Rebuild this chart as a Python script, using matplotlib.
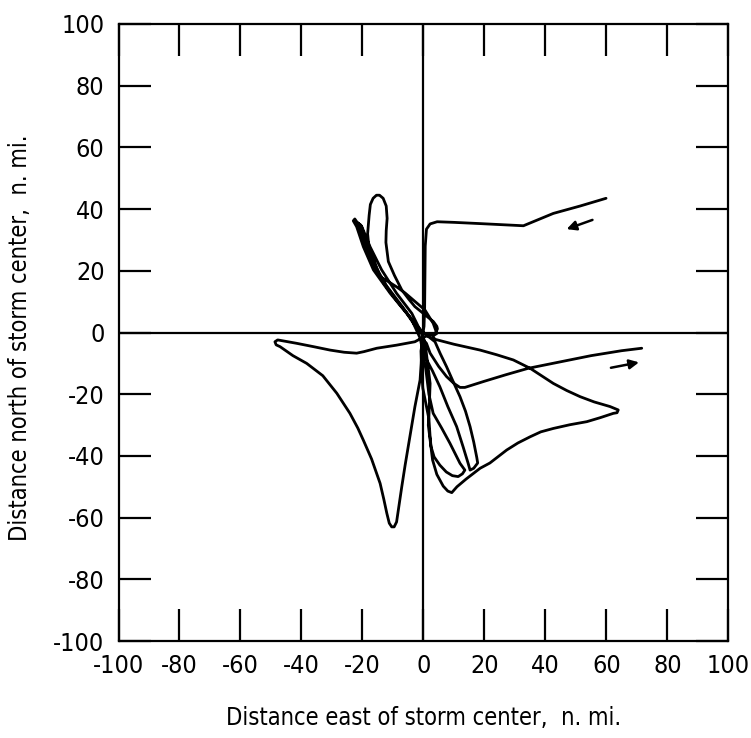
import matplotlib
matplotlib.use("Agg")
from matplotlib import pyplot as plt
from matplotlib import font_manager

# Storm-relative flight track (n. mi. east / north of storm center)
east_nmi = [
    # inbound leg
    59.9, 51.4, 42.6, 32.8, 25.0, 18.6, 10.0, 4.5, 2.2, 1.0, 0.6, 0.5, 0.4, 0.2, -0.2,
    # first pass up the NW bundle
    -1.7, -5.5, -10.9, -16.4, -19.7, -21.9, -23.0, -22.5, -21.8, -20.2, -17.5, -13.7, -8.8, -3.8, -1.1, 0.3,
    # narrow SE loop
    0.5, 3.0, 5.4, 8.0, 10.9, 13.0, 14.7, 15.3, 16.5, 17.8, 17.5, 16.5, 15.3, 13.8, 12.0, 9.8, 7.6, 5.5, 3.8, 1.5, -0.5,
    # tall NW loop
    -3.0, -7.0, -12.0, -15.5, -17.8, -18.3, -17.8, -17.4, -16.5, -15.4, -14.4, -13.2, -12.2, -11.9, -12.2, -12.3,
    -11.5, -9.5, -7.1, -4.8, -2.8, 0.8, 3.3, 4.4, 4.6, 4.0, 2.3, 0.0,
    # west / south-west petal
    -2.8, -8.8, -15.3, -19.5, -21.9, -26.0, -30.6, -36.0, -41.6, -46.0, -47.8, -48.7, -48.3, -47.0, -42.8, -38.3,
    -33.0, -28.4, -24.1, -21.5, -19.7, -17.0, -14.2, -13.0, -12.0, -11.2, -10.4, -9.6, -8.8, -8.0, -7.1, -6.0,
    -5.0, -3.8, -2.8, -1.8, -1.1, -0.6, -0.5,
    # south loop
    -0.8, -0.6, -0.2, 0.8, 1.8, 2.2, 2.5, 3.5, 5.4, 7.5, 9.5, 11.4, 12.8, 13.6, 12.0, 8.7, 6.0, 3.2, 1.8, 0.8, -1.0,
    # another NW pass
    -4.0, -8.5, -13.0, -16.5, -19.0, -20.8, -21.5, -20.5, -18.8, -16.5, -14.2, -11.5, -8.8, -6.0, -3.3, 0.5, 3.2, 4.4, 3.0,
    # east petal
    3.8, 10.0, 18.6, 24.0, 29.5, 35.0, 39.0, 42.6, 47.0, 51.4, 56.0, 61.2, 63.9, 63.5, 62.3, 58.0, 53.6, 48.0, 42.6,
    38.5, 35.0, 31.0, 27.3, 21.8, 18.6, 14.0, 11.0, 9.3, 8.0, 6.5, 4.4, 3.0, 2.2, 1.6, 1.8, 2.2, 1.1, 0.5,
    # outbound leg
    1.0, 2.2, 5.0, 7.6, 10.0, 12.0, 13.6, 20.0, 27.0, 34.4, 45.0, 55.0, 65.0, 71.6,
]
north_nmi = [
    43.5, 41.0, 38.6, 34.6, 35.0, 35.3, 35.7, 35.9, 35.2, 33.5, 28.0, 18.0, 8.0, 2.0, -0.5,
    0.8, 6.2, 12.7, 20.3, 27.8, 34.3, 36.2, 36.8, 35.8, 34.3, 27.8, 20.3, 12.7, 6.2, 0.8, -2.5,
    -7.8, -12.5, -17.6, -24.0, -30.5, -37.0, -42.5, -44.6, -44.0, -42.3, -40.5, -35.5, -30.5, -25.5, -20.8, -16.0,
    -11.1, -6.8, -3.0, -1.2, 0.5,
    3.0, 8.5, 15.0, 21.0, 27.0, 32.0, 38.0, 41.5, 43.5, 44.5, 44.5, 43.5, 41.0, 37.0, 33.0, 29.2,
    23.0, 18.5, 13.8, 10.8, 8.4, 5.5, 3.5, 2.0, 1.2, -0.2, -0.8, -1.5,
    -3.0, -4.1, -5.1, -6.2, -6.7, -6.4, -5.7, -4.6, -3.5, -2.7, -2.4, -3.0, -4.0, -4.6, -7.5, -10.0,
    -14.0, -19.7, -26.2, -31.0, -34.9, -41.0, -48.9, -54.0, -58.6, -61.8, -63.0, -63.0, -61.4, -56.0, -50.0, -43.0,
    -37.0, -30.0, -24.1, -19.0, -15.4, -8.0, -4.0,
    -6.0, -12.0, -18.0, -23.0, -28.0, -33.8, -37.0, -40.3, -43.0, -45.2, -46.4, -46.7, -45.8, -44.6, -42.4, -35.9,
    -31.0, -26.2, -20.0, -12.0, -2.0,
    4.5, 10.0, 16.0, 22.0, 28.5, 33.5, 35.5, 34.8, 30.0, 24.0, 18.1, 16.5, 14.8, 12.8, 10.5, 7.3, 3.0, -0.3, -1.2,
    -2.2, -3.8, -5.7, -7.2, -8.9, -11.6, -14.2, -16.5, -18.8, -20.8, -22.5, -24.0, -25.1, -26.0, -26.2, -27.6,
    -28.9, -29.9, -31.1, -32.2, -33.8, -35.8, -38.1, -42.3, -44.0, -47.5, -50.0, -51.9, -51.4, -49.8, -46.0, -41.3,
    -34.8, -30.0, -27.3, -16.5, -7.8, -3.0,
    -3.5, -6.7, -11.0, -14.3, -16.5, -17.8, -17.8, -15.8, -13.7, -11.6, -9.5, -7.5, -5.9, -5.1,
]

# direction arrows: (tail, head)
arrows = [((56.3, 36.8), (46.1, 33.2)), ((60.6, -11.6), (71.6, -9.5))]

ticks = list(range(-100, 101, 20))

# prefer a narrow face if one is around
_names = {f.name for f in font_manager.fontManager.ttflist}
_family = [n for n in ['Liberation Sans Narrow', 'DejaVu Sans'] if n in _names]
plt.rcParams['font.family'] = _family + ['DejaVu Sans']
plt.rcParams['font.stretch'] = 'condensed'
plt.rcParams['axes.unicode_minus'] = False


def main():
    fig = plt.figure(figsize=(7.51, 7.38), dpi=100)
    ax = fig.add_axes([0.1578, 0.1314, 0.8120, 0.8361])

    ax.plot(east_nmi, north_nmi, color='black', lw=2.0,
            solid_joinstyle='round', solid_capstyle='round')
    ax.axhline(0, color='black', lw=1.6)
    ax.axvline(0, color='black', lw=1.6)

    for tail, head in arrows:
        ax.annotate('', xy=head, xytext=tail,
                    arrowprops=dict(arrowstyle='-|>', color='black', lw=1.8, mutation_scale=14))

    ax.set_xlim(-100, 100)
    ax.set_ylim(-100, 100)
    ax.set_xticks(ticks)
    ax.set_yticks(ticks)
    ax.tick_params(direction='in', length=23, width=1.6, labelsize=18,
                   top=True, right=True)
    ax.tick_params(axis='x', pad=9)
    ax.tick_params(axis='y', pad=10)
    for s in ax.spines.values():
        s.set_linewidth(1.6)

    ax.set_xlabel('Distance east of storm center,  n. mi.', fontsize=17)
    ax.set_ylabel('Distance north of storm center,  n. mi.', fontsize=17)
    ax.xaxis.set_label_coords(0.5, -0.125)
    ax.xaxis.label.set_va('center')
    ax.yaxis.set_label_coords(-0.162, 0.491)
    ax.yaxis.label.set_va('center')

    fig.savefig('out.png', dpi=100)


if __name__ == "__main__":
    main()
